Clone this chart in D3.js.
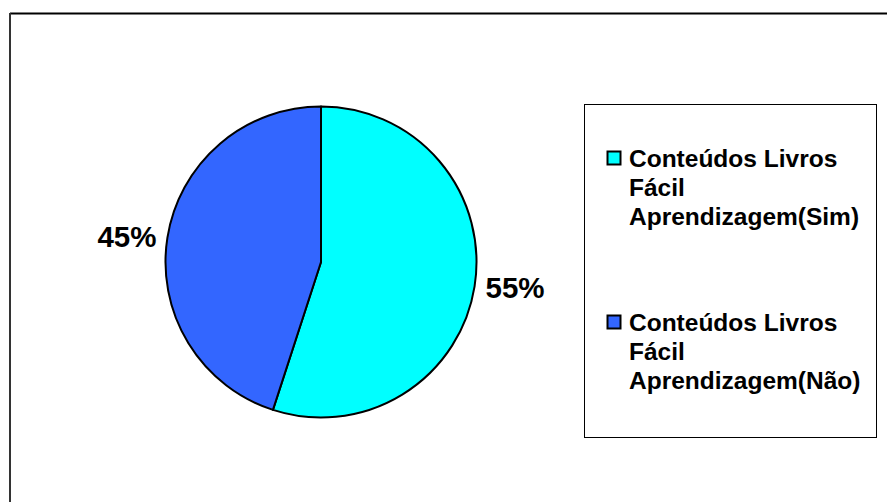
<!DOCTYPE html>
<html>
<head>
<meta charset="utf-8">
<script src="https://cdn.jsdelivr.net/npm/d3@7/dist/d3.min.js"></script>
<style>
  html, body { margin: 0; padding: 0; background: #fff; }
  svg { display: block; }
  text { font-family: "Liberation Sans", Arial, sans-serif; font-weight: bold; fill: #000; }
</style>
</head>
<body>
<svg id="chart" width="887" height="502"></svg>
<script>
// Survey answers: are the textbook contents easy to learn from?
const categories = ["Conteúdos Livros Fácil Aprendizagem(Sim)", "Conteúdos Livros Fácil Aprendizagem(Não)"];
const legendLines = [
  ["Conteúdos Livros", "Fácil", "Aprendizagem(Sim)"],
  ["Conteúdos Livros", "Fácil", "Aprendizagem(Não)"]
];
const values = [55, 45];
const valueLabels = ["55%", "45%"];
const colors = ["#00FFFF", "#3366FF"];

const svg = d3.select("#chart");

// Chart area frame
svg.append("line").attr("x1", 10).attr("y1", 13.5).attr("x2", 887).attr("y2", 13.5)
  .attr("stroke", "#000").attr("stroke-width", 2);
svg.append("line").attr("x1", 10).attr("y1", 13).attr("x2", 10).attr("y2", 502)
  .attr("stroke", "#333").attr("stroke-width", 2);

// Pie
const cx = 321, cy = 262, r = 155.5;
const pie = d3.pie().sort(null).value(d => d.value);
const arc = d3.arc().innerRadius(0).outerRadius(r);
const data = categories.map((c, i) => ({ name: c, value: values[i], color: colors[i], label: valueLabels[i] }));
const arcs = pie(data);

const g = svg.append("g").attr("transform", `translate(${cx},${cy})`);
g.selectAll("path").data(arcs).join("path")
  .attr("d", arc)
  .attr("fill", d => d.data.color)
  .attr("stroke", "#000")
  .attr("stroke-width", 2)
  .attr("stroke-linejoin", "round");

// Percentage labels outside the slices
const labelArc = d3.arc().innerRadius(r + 41).outerRadius(r + 41);
g.selectAll("text.pct").data(arcs).join("text")
  .attr("class", "pct")
  .attr("font-size", 29.5)
  .attr("text-anchor", "middle")
  .attr("x", d => labelArc.centroid(d)[0])
  .attr("y", d => labelArc.centroid(d)[1] * 0.82 + 10.5)
  .text(d => d.data.label);

// Legend
const lg = svg.append("g");
lg.append("rect").attr("x", 584.5).attr("y", 104.5).attr("width", 292).attr("height", 333)
  .attr("fill", "#fff").attr("stroke", "#000").attr("stroke-width", 1);

const entryY = [167, 331];
const lineH = 29;
data.forEach((d, i) => {
  lg.append("rect")
    .attr("x", 607.5).attr("y", entryY[i] - 15.5)
    .attr("width", 13).attr("height", 13)
    .attr("fill", d.color).attr("stroke", "#000").attr("stroke-width", 2);
  const t = lg.append("text").attr("font-size", 24.5).attr("x", 629).attr("y", entryY[i]);
  legendLines[i].forEach((ln, j) => {
    t.append("tspan").attr("x", 629).attr("y", entryY[i] + j * lineH).text(ln);
  });
});
</script>
</body>
</html>
